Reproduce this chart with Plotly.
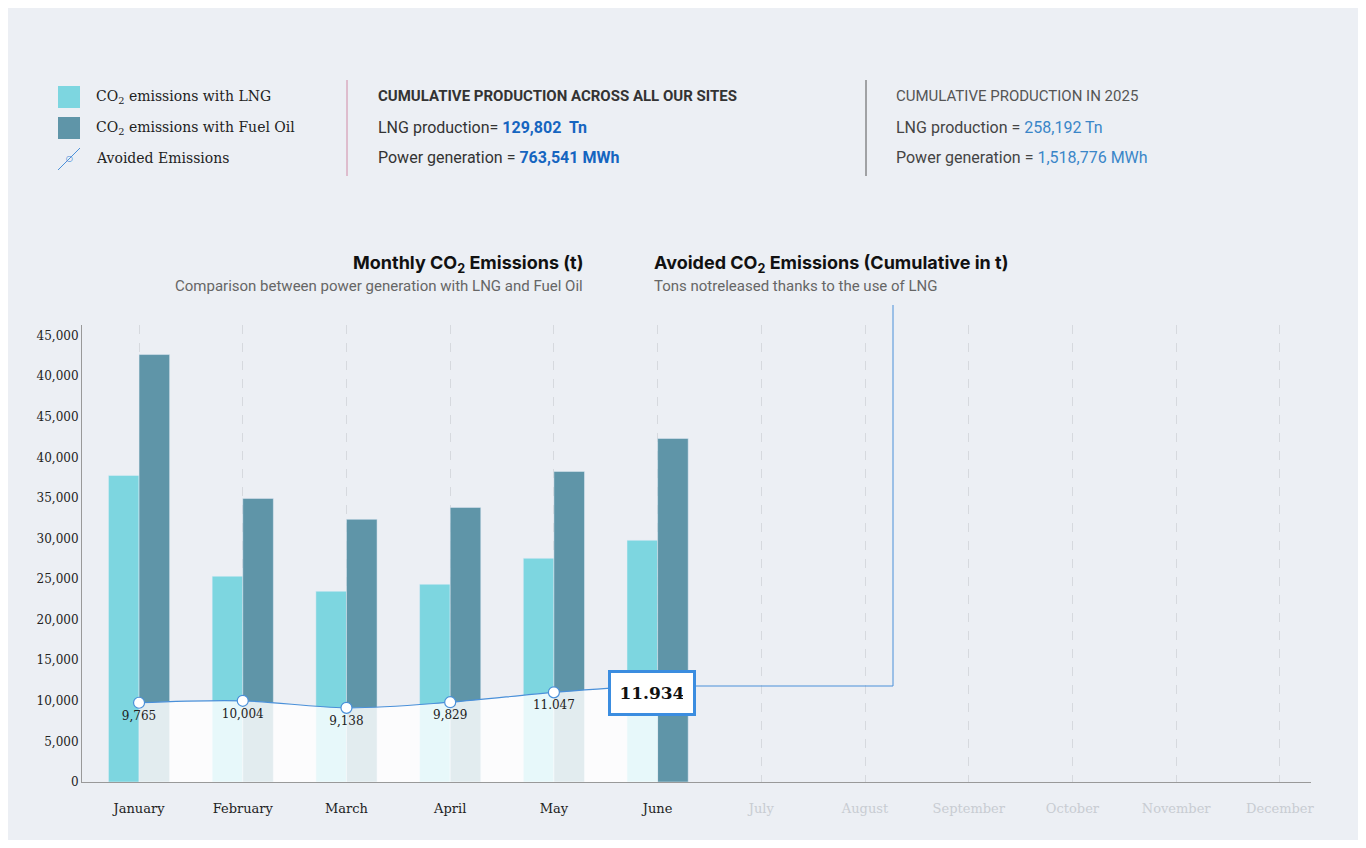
import plotly.graph_objects as go

months = ["January", "February", "March", "April", "May", "June", "July",
          "August", "September", "October", "November", "December"]
lng = [37770, 25350, 23500, 24360, 27560, 29780]
fuel_oil = [52660, 34940, 32360, 33830, 38260, 42320]
avoided = [9765, 10004, 9138, 9829, 11047, 11934]
avoided_labels = ["9,765", "10,004", "9,138", "9,829", "11.047", "11.934"]
tick_vals = [0, 5000, 10000, 15000, 20000, 25000, 30000, 35000, 40000, 45000, 50000, 55000]
tick_text = ["0", "5,000", "10,000", "15,000", "20,000", "25,000", "30,000",
             "35,000", "40,000", "45,000", "40,000", "45,000"]

# page body has an 8px margin, so work in screen pixels and shift
O = 8
W, H = 1366 - 2 * O, 848 - 2 * O
L, R, T, B = 82, 1311, 325, 782


def px(x):
    return (x - L) / (R - L)


def py(y):
    return (B - y) / (B - T)


SERIF = "DejaVu Serif"
SANS = "Roboto"
BG = "#eceff4"

fig = go.Figure()
fig.add_trace(go.Bar(x=months[:6], y=lng, marker_color="#7dd6e0", name="LNG"))
fig.add_trace(go.Bar(x=months[:6], y=fuel_oil, marker_color="#5f95a8", name="Fuel Oil"))
fig.add_trace(go.Scatter(x=months[:6], y=avoided, mode="lines", line=dict(color="#4a90d9", width=1.2, shape="spline"),
                         fill="tozeroy", fillcolor="rgba(255,255,255,0.82)"))
fig.add_trace(go.Scatter(x=months[:5], y=avoided[:5], mode="markers+text", text=avoided_labels[:5],
                         textposition="bottom center", textfont=dict(family=SERIF, size=12, color="#222"),
                         marker=dict(size=11, color="white", line=dict(color="#4a90d9", width=1.2))))

tick_labels = [m if i < 6 else f"<span style='color:#c8ccd2'>{m}</span>" for i, m in enumerate(months)]
fig.update_layout(
    width=W, height=H, paper_bgcolor=BG, plot_bgcolor=BG, showlegend=False,
    margin=dict(l=L - O, r=1366 - O - R, t=T - O, b=848 - O - B, pad=0),
    barmode="group", bargap=0.41, bargroupgap=0,
    xaxis=dict(type="category", categoryorder="array", categoryarray=months,
               tickvals=months, ticktext=tick_labels, range=[-0.55, 11.3],
               showgrid=True, gridcolor="#d6d9de", griddash="dash",
               ticks="", tickfont=dict(family=SERIF, size=13, color="#222"),
               showline=True, linecolor="#999", ticklabelstandoff=14),
    yaxis=dict(range=[0, 56300], tickvals=tick_vals, ticktext=tick_text, showgrid=False,
               tickfont=dict(family=SERIF, size=12, color="#222"), showline=True, linecolor="#999",
               ticks="", zeroline=False),
)

ann = []
shp = []


def text(x, y, s, size=14, color="#222", family=SANS, anchor="left"):
    ann.append(dict(x=px(x), y=py(y), xref="paper", yref="paper", text=s, showarrow=False,
                    xanchor=anchor, yanchor="middle", font=dict(size=size, color=color, family=family)))


def line(x0, y0, x1, y1, color, width=1):
    shp.append(dict(type="line", xref="paper", yref="paper", x0=px(x0), x1=px(x1), y0=py(y0), y1=py(y1),
                    line=dict(color=color, width=width)))


# legend
shp.append(dict(type="rect", xref="paper", yref="paper", x0=px(58), x1=px(80), y0=py(86), y1=py(108),
                fillcolor="#7dd6e0", line_width=0))
shp.append(dict(type="rect", xref="paper", yref="paper", x0=px(58), x1=px(80), y0=py(117), y1=py(139),
                fillcolor="#5f95a8", line_width=0))
text(94, 97, "CO<sub>2</sub> emissions with LNG", 14, "#222", SERIF)
text(94, 128, "CO<sub>2</sub> emissions with Fuel Oil", 14, "#222", SERIF)
text(94, 158, "Avoided Emissions", 14, "#222", SERIF)
line(58, 170, 80, 148, "#4a90d9")
text(69, 158, "○", 14, "#4a90d9", SANS, "center")
line(347, 80, 347, 176, "#d08aa6")
line(866, 80, 866, 176, "#555")
text(376, 96, "<b>CUMULATIVE PRODUCTION ACROSS ALL OUR SITES</b>", 15, "#333")
text(376, 127, "LNG production= <b><span style='color:#1565c0'>129,802  Tn</span></b>", 16, "#333")
text(376, 158, "Power generation = <b><span style='color:#1565c0'>763,541 MWh</span></b>", 16, "#333")
text(894, 96, "CUMULATIVE PRODUCTION IN 2025", 15, "#555")
text(894, 127, "LNG production = <span style='color:#3a86c8'>258,192 Tn</span>", 16, "#444")
text(894, 158, "Power generation = <span style='color:#3a86c8'>1,518,776 MWh</span>", 16, "#444")

# chart titles
text(585, 264, "<b>Monthly CO<sub>2</sub> Emissions (t)</b>", 18, "#111", "Inter", "right")
text(585, 286, "Comparison between power generation with LNG and Fuel Oil", 15, "#666", SANS, "right")
text(652, 264, "<b>Avoided CO<sub>2</sub> Emissions (Cumulative in t)</b>", 18, "#111", "Inter")
text(652, 286, "Tons notreleased thanks to the use of LNG", 15, "#666", SANS)

# callout
line(694, 686, 893, 686, "#4a90d9")
line(893, 686, 893, 305, "#4a90d9")
ann.append(dict(x="June", y=avoided[5], xref="x", yref="y", xshift=-6, yshift=-8,
                text="<b>" + avoided_labels[5] + "</b>",
                showarrow=False, font=dict(family=SERIF, size=17, color="#111"), bgcolor="white",
                bordercolor="#3b8de0", borderwidth=3, borderpad=10, width=62))

fig.update_layout(annotations=ann, shapes=shp)
fig.write_html("out.html")
